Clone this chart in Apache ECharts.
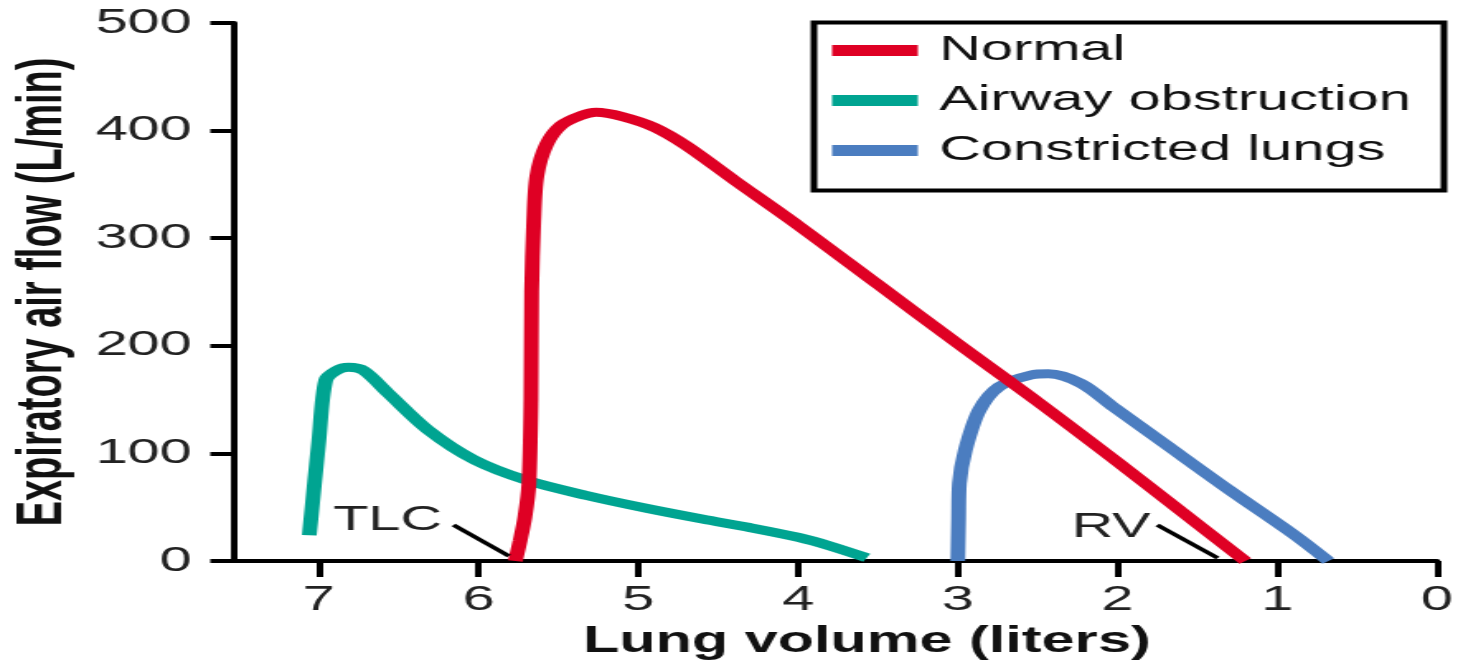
<!DOCTYPE html>
<html>
<head>
<meta charset="utf-8">
<script src="https://cdn.jsdelivr.net/npm/echarts@6/dist/echarts.min.js"></script>
<style>
html,body{margin:0;padding:0;background:#fff;overflow:hidden}
#wrap{width:1458px;height:667px;overflow:hidden;position:relative}
#chart{width:884px;height:667px;transform:scaleX(1.6493);transform-origin:0 0}
</style>
</head>
<body>
<div id="wrap"><div id="chart"></div></div>
<script>
// ---- data (lung volume in liters, expiratory air flow in L/min) ----
const seriesNames = ['Normal', 'Airway obstruction', 'Constricted lungs'];
const xTicks = [0, 1, 2, 3, 4, 5, 6, 7];
const yTicks = [0, 100, 200, 300, 400, 500];

const normalVolume = [5.77, 5.74, 5.71, 5.685, 5.672, 5.668, 5.655, 5.635, 5.575, 5.482, 5.358, 5.265, 5.1, 4.9, 4.7, 4.4, 4.0, 3.5, 3.0, 2.5, 2.0, 1.6, 1.2];
const normalFlow   = [0,    19,   41,   72,    150,   250,   315,   358,   387,   405,   414,   417,   413, 403, 386, 354, 312, 257, 202, 148, 92,  46,  0];

const obstructionVolume = [7.06, 7.0, 6.957, 6.89, 6.815, 6.72, 6.567, 6.318, 6.027, 5.699, 5.327, 4.95, 4.6, 4.3, 4.0, 3.8, 3.57];
const obstructionFlow   = [24,   112, 168,   177,  180,   177,  156,   122,   94,    75,    61,    49,   39,  31,  22,  14,  3];

const constrictedVolume = [3.0, 2.995, 2.99, 2.953, 2.866, 2.742, 2.538, 2.433, 2.228, 2.024, 1.714, 1.3, 0.9, 0.68];
const constrictedFlow   = [0,   40,    72,   103,   140,   162,   173,   174,   165,   143,   110,   66,  25,  0];

const annotationText = ['TLC', 'RV'];
const annotationTextAt = [[6.57, 38], [2.04, 31.6]];
const annotationPointerFrom = [[6.157, 33.5], [1.751, 33.5]];
const annotationPointerTo = [[5.81, 4.6], [1.373, 2.8]];

const colors = ['#DF0024', '#00A491', '#4B7DC0'];

function pairs(xs, ys) { return xs.map((x, i) => [x, ys[i]]); }

const chart = echarts.init(document.getElementById('chart'), null, {renderer: 'canvas'});
const FONT = 'Liberation Sans, Arial, Helvetica, sans-serif';

const lineSeries = [
  pairs(normalVolume, normalFlow),
  pairs(obstructionVolume, obstructionFlow),
  pairs(constrictedVolume, constrictedFlow)
].map((d, i) => ({
  name: seriesNames[i],
  type: 'line',
  data: d,
  smooth: 0.3,
  showSymbol: false,
  symbol: 'none',
  silent: true,
  lineStyle: {color: colors[i], width: 9, cap: 'butt'},
  itemStyle: {color: colors[i]},
  z: 3 - i
}));

lineSeries[0].markLine = {
  silent: true,
  symbol: ['none', 'none'],
  animation: false,
  label: {show: false},
  lineStyle: {color: '#000', width: 3.5, type: 'solid'},
  data: annotationPointerFrom.map((p, i) => [{coord: p}, {coord: annotationPointerTo[i]}])
};
lineSeries[0].markPoint = {
  silent: true,
  symbol: 'circle',
  symbolSize: 0,
  animation: false,
  label: {show: true, position: 'inside', formatter: '{b}', color: '#222', fontSize: 35, fontFamily: FONT},
  data: annotationText.map((t, i) => ({name: t, coord: annotationTextAt[i]}))
};

chart.setOption({
  animation: false,
  backgroundColor: '#fff',
  grid: {left: 136.1, right: 11.2, top: 23, bottom: 106, containLabel: false},
  xAxis: {
    type: 'value',
    inverse: true,
    min: 0,
    max: 7.53,
    name: 'Lung volume (liters)',
    nameLocation: 'middle',
    nameGap: 63,
    nameTextStyle: {fontSize: 36, fontWeight: 'bold', color: '#111', fontFamily: FONT, padding: [0, 0, 0, 38]},
    axisLine: {onZero: false, lineStyle: {color: '#000', width: 4}},
    axisTick: {show: true, length: 16, lineStyle: {color: '#000', width: 4}, customValues: xTicks},
    axisLabel: {fontSize: 35, color: '#222', fontFamily: FONT, margin: 22, customValues: xTicks},
    splitLine: {show: false}
  },
  yAxis: {
    type: 'value',
    min: yTicks[0],
    max: yTicks[yTicks.length - 1],
    interval: 100,
    name: 'Expiratory air flow (L/min)',
    nameLocation: 'middle',
    nameGap: 96,
    nameTextStyle: {fontSize: 38, fontWeight: 'bold', color: '#111', fontFamily: FONT},
    axisLine: {show: true, onZero: false, lineStyle: {color: '#000', width: 4}},
    axisTick: {show: true, length: 14.5, lineStyle: {color: '#000', width: 4}},
    axisLabel: {fontSize: 35, color: '#222', fontFamily: FONT, margin: 25.7},
    splitLine: {show: false}
  },
  legend: {
    data: seriesNames.map(n => ({name: n, icon: 'rect'})),
    orient: 'vertical',
    left: 504.5,
    top: 30.5,
    padding: 0,
    itemWidth: 52,
    itemHeight: 11,
    itemGap: 10,
    selectedMode: false,
    textStyle: {fontSize: 35, color: '#111', fontFamily: FONT, lineHeight: 40, padding: [0, 0, 0, 8]}
  },
  graphic: [{
    type: 'rect',
    left: 491,
    top: 20,
    shape: {width: 382, height: 168},
    style: {fill: 'none', stroke: '#000', lineWidth: 4},
    silent: true,
    z: 10
  }],
  series: lineSeries
});
</script>
</body>
</html>
